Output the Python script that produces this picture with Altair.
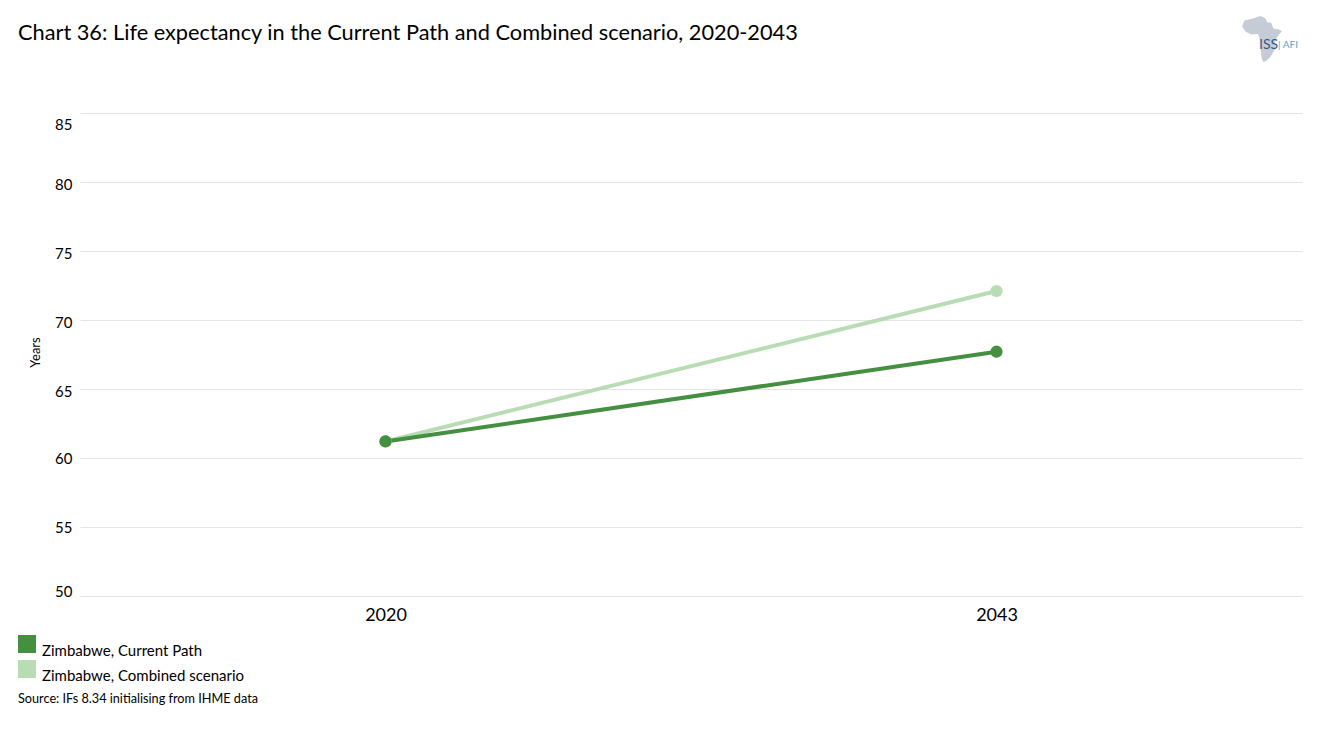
import altair as alt
import pandas as pd

years = ["2020", "2043"]
current_path = [61.2, 67.7]
combined = [61.2, 72.1]
s_current = "Zimbabwe, Current Path"
s_combined = "Zimbabwe, Combined scenario"
y_ticks = [50, 55, 60, 65, 70, 75, 80, 85]
title_text = "Chart 36: Life expectancy in the Current Path and Combined scenario, 2020-2043"
source_text = "Source: IFs 8.34 initialising from IHME data"
FONT = "Lato"
DARK = "#458f41"
LIGHT = "#b8dcb4"
AFRICA = ("M-0.45,-0.9 L-0.15,-1 L0.05,-0.9 L0.15,-0.72 L0.3,-0.72 L0.42,-0.45 L0.62,-0.42 L0.78,-0.35 "
          "L0.55,-0.05 L0.48,0.15 L0.5,0.4 L0.28,0.78 L0.1,0.95 L-0.02,1 L-0.1,0.85 L-0.15,0.45 L-0.1,0.2 "
          "L-0.2,-0.02 L-0.25,-0.22 L-0.55,-0.2 L-0.8,-0.32 L-0.95,-0.55 L-0.85,-0.8 Z")

df = pd.DataFrame({
    "year": years * 2,
    "value": combined + current_path,
    "series": [s_combined] * 2 + [s_current] * 2,
})

x = alt.X("year:N", title=None, scale=alt.Scale(paddingOuter=0.5, paddingInner=1),
          axis=alt.Axis(labelAngle=0, labelFontSize=18, labelFont=FONT, labelColor="#000000",
                        domain=False, ticks=False, labelPadding=10))
y = alt.Y("value:Q", title="Years",
          scale=alt.Scale(domain=[50, 85], nice=False, zero=False),
          axis=alt.Axis(values=y_ticks, domain=False, ticks=False, gridColor="#e4e4e4", gridWidth=1,
                        labelFontSize=15, labelFont=FONT, labelColor="#000000", labelPadding=8,
                        labelBaseline="middle",
                        labelOffset={"condition": [
                            {"test": "datum.value == 85", "value": 11},
                            {"test": "datum.value == 50", "value": -5},
                            {"test": "datum.value >= 65", "value": 2},
                        ], "value": 0},
                        titleFont=FONT, titleFontSize=13, titleFontWeight="normal", titleColor="#000000",
                        titleX=-38, titleY=239))
legend = alt.Legend(orient="none", legendX=-62, legendY=522, title=None,
                    symbolType="square", symbolSize=324, symbolStrokeWidth=0,
                    symbolOpacity=1, labelFont=FONT, labelFontSize=15, labelBaseline="top",
                    labelColor="#000000", rowPadding=1, labelOffset=6, labelLimit=400)
color = alt.Color("series:N", legend=legend,
                  scale=alt.Scale(domain=[s_current, s_combined], range=[DARK, LIGHT]))

lines = alt.Chart(df).mark_line(strokeWidth=4).encode(
    x=x, y=y, color=color, order=alt.Order("year:N"))

points = alt.Chart(df).mark_point(filled=True, size=150, opacity=1).encode(x=x, y=y, color=color)

source = alt.Chart(pd.DataFrame({"t": [source_text]})).mark_text(
    align="left", baseline="middle", font=FONT, fontSize=12.7, color="#000000"
).encode(text="t:N", x=alt.value(-62), y=alt.value(586))

africa = alt.Chart(pd.DataFrame({"t": ["logo"]})).mark_point(
    shape=AFRICA, filled=True, size=2116, color="#c5ccd5", opacity=1
).encode(x=alt.value(1184), y=alt.value(-74))

iss = alt.Chart(pd.DataFrame({"t": ["ISS"]})).mark_text(
    align="left", baseline="middle", font=FONT, fontSize=14, color="#2c5a85"
).encode(text="t:N", x=alt.value(1179), y=alt.value(-68))

afi = alt.Chart(pd.DataFrame({"t": ["| AFI"]})).mark_text(
    align="left", baseline="middle", font=FONT, fontSize=10, color="#5ba3d0"
).encode(text="t:N", x=alt.value(1198), y=alt.value(-68))

chart = alt.layer(lines, points, source, africa, iss, afi).properties(
    width=1222, height=483,
    background="#ffffff",
    padding={"left": 72, "top": 105, "right": 8, "bottom": 120},
    autosize=alt.AutoSizeParams(type="none"),
    title=alt.TitleParams(title_text, anchor="start", dx=0, offset=0, dy=29, font=FONT, fontSize=21.75,
                          fontWeight="normal", color="#000000"),
).configure_view(stroke=None)

chart.save("out.html", embed_options={"renderer": "svg", "actions": False})
